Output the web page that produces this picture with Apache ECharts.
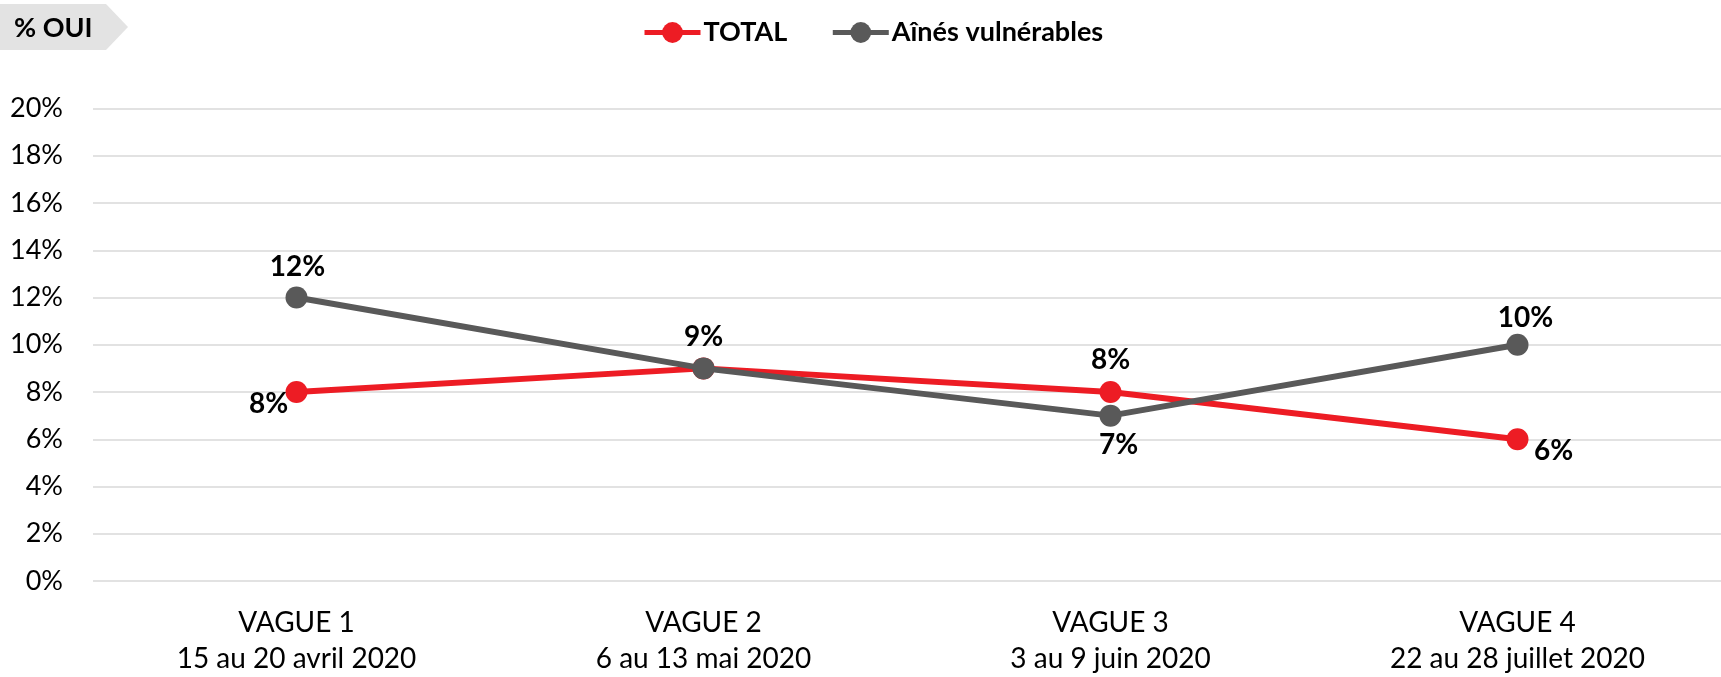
<!DOCTYPE html>
<html>
<head>
<meta charset="utf-8">
<script src="https://cdn.jsdelivr.net/npm/echarts@6/dist/echarts.min.js"></script>
<style>
html,body{margin:0;padding:0;background:#fff;}
#c{width:1721px;height:677px;}
</style>
</head>
<body>
<div id="c"></div>
<script>
const categories = ['VAGUE 1\n15 au 20 avril 2020', 'VAGUE 2\n6 au 13 mai 2020', 'VAGUE 3\n3 au 9 juin 2020', 'VAGUE 4\n22 au 28 juillet 2020'];
const totalValues = [8, 9, 8, 6];
const ainesValues = [12, 9, 7, 10];
const yTicks = [0, 2, 4, 6, 8, 10, 12, 14, 16, 18, 20];
const seriesNames = ['TOTAL', 'Aînés vulnérables'];

// label placement per point (offsets from marker centre), null = hidden
const totalLabelOffsets = [[-28, 12], null, [0, -32], [36, 12]];
const ainesLabelOffsets = [[1, -31], [0, -31], [8, 29], [8, -27]];

const FONT = 'Lato';

function buildData(values, offsets) {
  return values.map((v, i) => {
    const off = offsets[i];
    if (!off) return { value: v, label: { show: false } };
    return { value: v, label: { show: true, position: 'inside', offset: off } };
  });
}

const labelStyle = {
  show: true,
  formatter: p => p.value + '%',
  fontFamily: FONT,
  fontWeight: 'bold',
  fontSize: 28,
  color: '#000'
};

const chart = echarts.init(document.getElementById('c'));
chart.setOption({
  animation: false,
  backgroundColor: '#fff',
  graphic: [
    {
      type: 'polygon',
      shape: { points: [[0, 4], [106, 4], [128, 27], [106, 50], [0, 50]] },
      style: { fill: '#e3e3e3' },
      z: 1
    },
    {
      type: 'text',
      x: 14,
      y: 28,
      style: { text: '% OUI', font: 'bold 27px Lato', fill: '#000', verticalAlign: 'middle', align: 'left' },
      z: 2
    }
  ],
  legend: {
    left: 637,
    top: 14,
    itemWidth: 56,
    itemHeight: 26,
    itemGap: 43,
    lineStyle: { width: 5 },
    textStyle: { fontFamily: FONT, fontWeight: 'bold', fontSize: 27, color: '#000', padding: [0, 0, 0, -2] },
    data: seriesNames
  },
  grid: { left: 93, top: 108.5, width: 1639, height: 473, containLabel: false },
  xAxis: {
    type: 'category',
    data: categories,
    boundaryGap: true,
    axisLine: { show: false },
    axisTick: { show: false },
    axisLabel: {
      margin: 24,
      fontFamily: FONT,
      fontSize: 28,
      lineHeight: 36,
      color: '#000',
      interval: 0
    },
    splitLine: { show: false }
  },
  yAxis: {
    type: 'value',
    min: yTicks[0],
    max: yTicks[yTicks.length - 1],
    interval: 2,
    axisLine: { show: false },
    axisTick: { show: false },
    axisLabel: {
      margin: 30,
      formatter: '{value}%',
      fontFamily: FONT,
      fontSize: 27,
      color: '#000'
    },
    splitLine: { lineStyle: { color: '#d9d9d9', width: 1.5 } }
  },
  series: [
    {
      name: seriesNames[0],
      type: 'line',
      data: buildData(totalValues, totalLabelOffsets),
      symbol: 'circle',
      symbolSize: 22,
      lineStyle: { color: '#ED1C24', width: 6 },
      itemStyle: { color: '#ED1C24' },
      label: labelStyle,
      z: 2
    },
    {
      name: seriesNames[1],
      type: 'line',
      data: buildData(ainesValues, ainesLabelOffsets),
      symbol: 'circle',
      symbolSize: 22,
      lineStyle: { color: '#595959', width: 6 },
      itemStyle: { color: '#595959' },
      label: labelStyle,
      z: 3
    }
  ]
});
</script>
</body>
</html>
